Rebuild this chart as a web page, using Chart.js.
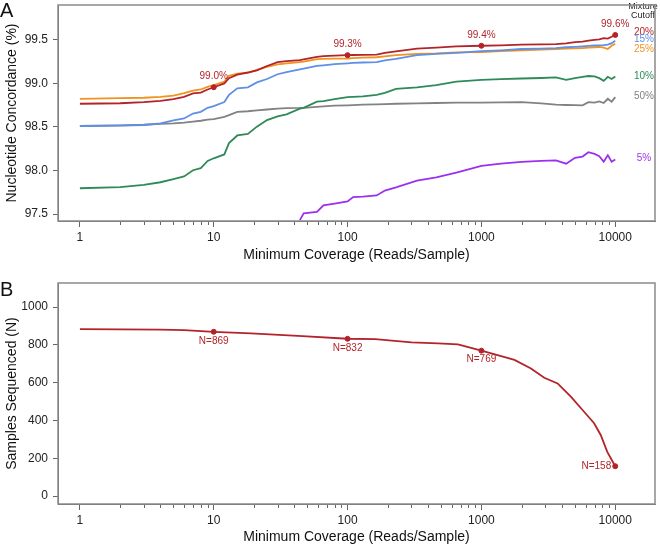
<!DOCTYPE html>
<html>
<head>
<meta charset="utf-8">
<script src="https://cdn.jsdelivr.net/npm/chart.js@4.4.1/dist/chart.umd.min.js"></script>
<style>
  html, body { margin: 0; padding: 0; background: #fff; }
  #wrap { position: relative; width: 660px; height: 546px; }
  #wrap canvas { position: absolute; left: 0; }
  #chartA { top: 0; }
  #chartB { top: 270px; }
</style>
</head>
<body>
<div id="wrap">
  <canvas id="chartA" width="660" height="270"></canvas>
  <canvas id="chartB" width="660" height="276"></canvas>
</div>
<script>
// Panel A: concordance per mixture cutoff vs minimum coverage
const coverageA = [
  1, 2, 3, 4, 5, 6, 7, 8, 9, 10,
  12, 13, 15, 18, 21, 25, 30, 35, 44, 47,
  59, 66, 80, 100, 110, 130, 165, 190, 230, 330,
  460, 650, 1000, 1400, 2000, 2800, 3600, 4300, 5000, 5700,
  6300, 7000, 7600, 8200, 8800, 9400, 10000
];
const cutoff20 = [
  98.766, 98.772, 98.785, 98.8, 98.82, 98.845, 98.885, 98.895, 98.93, 98.956,
  99.0, 99.06, 99.1, 99.125, 99.15, 99.2, 99.245, 99.255, 99.267, 99.275,
  99.305, 99.312, 99.318, 99.324, 99.326, 99.328, 99.33, 99.35, 99.368, 99.4,
  99.41, 99.425, 99.432, 99.436, 99.444, 99.448, 99.451, 99.46, 99.474, 99.48,
  99.49, 99.5, 99.505, 99.52, 99.515, 99.535, 99.556
];
const cutoff15 = [
  98.511, 98.515, 98.522, 98.54, 98.575, 98.597, 98.654, 98.673, 98.72, 98.74,
  98.786, 98.868, 98.944, 98.955, 99.011, 99.05, 99.105, 99.13, 99.161, 99.17,
  99.2, 99.207, 99.22, 99.23, 99.235, 99.24, 99.245, 99.265, 99.282, 99.324,
  99.34, 99.35, 99.37, 99.38, 99.395, 99.4, 99.406, 99.415, 99.42, 99.425,
  99.43, 99.435, 99.436, 99.44, 99.445, 99.462, 99.49
];
const cutoff25 = [
  98.823, 98.83, 98.835, 98.845, 98.86, 98.887, 98.918, 98.93, 98.96, 98.98,
  99.02, 99.087, 99.113, 99.124, 99.155, 99.19, 99.218, 99.23, 99.245, 99.25,
  99.278, 99.282, 99.284, 99.286, 99.29, 99.295, 99.3, 99.31, 99.324, 99.339,
  99.345, 99.357, 99.36, 99.37, 99.38, 99.388, 99.395, 99.398, 99.402, 99.406,
  99.41, 99.415, 99.418, 99.41, 99.395, 99.432, 99.455
];
const cutoff10 = [
  97.796, 97.81, 97.834, 97.865, 97.9, 97.931, 98.003, 98.026, 98.11, 98.14,
  98.184, 98.315, 98.402, 98.42, 98.503, 98.579, 98.62, 98.645, 98.71, 98.72,
  98.79, 98.797, 98.82, 98.842, 98.845, 98.85, 98.868, 98.89, 98.936, 98.955,
  98.98, 99.02, 99.04, 99.05, 99.056, 99.062, 99.068, 99.04, 99.06, 99.076,
  99.085, 99.08, 99.06, 99.03, 99.076, 99.05, 99.079
];
const cutoff50 = [
  98.511, 98.518, 98.525, 98.535, 98.54, 98.549, 98.56, 98.571, 98.585, 98.59,
  98.616, 98.635, 98.673, 98.68, 98.69, 98.7, 98.71, 98.715, 98.718, 98.72,
  98.73, 98.735, 98.745, 98.748, 98.75, 98.755, 98.76, 98.762, 98.766, 98.77,
  98.775, 98.778, 98.78, 98.782, 98.786, 98.77, 98.755, 98.752, 98.75, 98.748,
  98.785, 98.78, 98.793, 98.775, 98.823, 98.79, 98.842
];
const cutoff5 = [
  null, null, null, null, null, null, null, null, null, null,
  null, null, null, null, null, null, null, null, 97.43, 97.507,
  97.525, 97.6, 97.62, 97.645, 97.695, 97.7, 97.713, 97.77, 97.807, 97.883,
  97.92, 97.976, 98.052, 98.078, 98.1, 98.11, 98.116, 98.078, 98.146, 98.16,
  98.21, 98.19, 98.165, 98.1, 98.176, 98.1, 98.127
];
const cutoffLabels = ["20%", "15%", "25%", "10%", "50%", "5%"];
const markedCoverage = [10, 100, 1000, 10000];

// Panel B: samples left at each minimum coverage
const coverageB = [
  1, 2, 4, 6, 10, 19, 46, 100, 161, 214, 301, 475,
  668, 1000, 1766, 2346, 2950, 3710, 4660, 5850, 6950, 7790, 8720, 10000
];
const samplesSequenced = [
  883, 882, 880, 878, 869, 861, 846, 832, 830, 822, 813, 808,
  802, 769, 720, 675, 626, 596, 526, 446, 385, 323, 234, 158
];

const majorTicks = [1, 10, 100, 1000, 10000];
const concordanceTicks = [97.5, 98.0, 98.5, 99.0, 99.5];
const sampleTicks = [0, 200, 400, 600, 800, 1000];

// styles
const FONT = "'Liberation Sans', Arial, Helvetica, sans-serif";
const RED = "#b3242a";
const seriesColors = ["#b3242a", "#5d90e6", "#f2921f", "#2f8a58", "#828282", "#9b30ee"];
const labelNudge = [-3, -1, 5, 0, -1, -1];
const AXIS = "#666";

const minorTicks = [];
majorTicks.slice(0, -1).forEach((d) => {
  for (let k = 2; k <= 9; k++) minorTicks.push(d * k);
});

function toPoints(xs, ys) {
  return xs.map((x, i) => ({ x, y: ys[i] }));
}

// frame, log minor ticks and panel letter
const boxPlugin = {
  id: "box",
  afterDraw(chart, args, opts) {
    const { ctx, chartArea: a, scales } = chart;
    ctx.save();
    ctx.strokeStyle = AXIS;
    ctx.lineWidth = 1;
    ctx.beginPath();
    minorTicks.forEach((v) => {
      const px = Math.round(scales.x.getPixelForValue(v)) + 0.5;
      ctx.moveTo(px, a.bottom);
      ctx.lineTo(px, a.bottom + 4);
    });
    ctx.stroke();
    ctx.strokeStyle = "#8a8a8a";
    ctx.lineWidth = 1.5;
    ctx.strokeRect(a.left, a.top, a.right - a.left, a.bottom - a.top);
    ctx.fillStyle = "#111";
    ctx.font = "20px " + FONT;
    ctx.textAlign = "left";
    ctx.textBaseline = "middle";
    ctx.fillText(opts.letter, 0, opts.letterY);
    ctx.restore();
  },
};

function noPad(s) {
  s.paddingTop = 0;
  s.paddingBottom = 0;
  s.paddingLeft = 0;
  s.paddingRight = 0;
}

function makeOptions(cfg) {
  return {
    responsive: false,
    animation: false,
    layout: { padding: { top: cfg.padTop, right: 2, left: 0, bottom: 0 } },
    plugins: {
      legend: { display: false },
      tooltip: { enabled: false },
      box: { letter: cfg.letter, letterY: cfg.letterY },
    },
    elements: { point: { radius: 0 }, line: { tension: 0, borderWidth: 1.8 } },
    scales: {
      x: {
        type: "logarithmic",
        min: 0.686,
        max: 19820,
        afterBuildTicks: (s) => { s.ticks = majorTicks.map((v) => ({ value: v })); },
        afterFit: (s) => { s.height = cfg.xHeight; noPad(s); },
        ticks: {
          autoSkip: false,
          maxRotation: 0,
          padding: 3,
          color: "#222",
          font: { family: FONT, size: 12 },
          callback: (v) => String(v),
        },
        grid: { drawOnChartArea: false, tickLength: 6, color: AXIS },
        border: { display: true, color: AXIS },
        title: {
          display: true,
          text: "Minimum Coverage (Reads/Sample)",
          color: "#111",
          font: { family: FONT, size: 14 },
          padding: { top: 0, bottom: cfg.titlePad },
        },
      },
      y: {
        min: cfg.yMin,
        max: cfg.yMax,
        afterBuildTicks: (s) => { s.ticks = cfg.yTicks.map((v) => ({ value: v })); },
        afterFit: (s) => { s.width = 58; noPad(s); },
        ticks: {
          padding: 5,
          color: "#222",
          font: { family: FONT, size: 12 },
          callback: cfg.yFormat,
        },
        grid: { drawOnChartArea: false, tickLength: 5, color: AXIS },
        border: { display: true, color: AXIS },
        title: {
          display: true,
          text: cfg.yTitle,
          color: "#111",
          font: { family: FONT, size: 14 },
          padding: { top: 4, bottom: 0 },
        },
      },
    },
  };
}

// ---------- Panel A ----------
const seriesA = [cutoff20, cutoff15, cutoff25, cutoff10, cutoff50, cutoff5];

const annotateA = {
  id: "annotateA",
  afterDatasetsDraw(chart) {
    const { ctx, chartArea, scales } = chart;
    ctx.save();
    ctx.textAlign = "center";
    ctx.textBaseline = "middle";
    ctx.font = "10px " + FONT;
    ctx.fillStyle = RED;
    markedCoverage.forEach((c) => {
      const v = cutoff20[coverageA.indexOf(c)];
      ctx.fillText(v.toFixed(1) + "%", scales.x.getPixelForValue(c), scales.y.getPixelForValue(v) - 11);
    });
    seriesA.forEach((vals, i) => {
      const last = vals[vals.length - 1];
      ctx.fillStyle = seriesColors[i];
      ctx.fillText(cutoffLabels[i], chartArea.right - 11, scales.y.getPixelForValue(last) + labelNudge[i]);
    });
    ctx.fillStyle = "#222";
    ctx.font = "9px " + FONT;
    ctx.fillText("Mixture", chartArea.right - 12, 7);
    ctx.fillText("Cutoff", chartArea.right - 12, 16);
    ctx.restore();
  },
};

new Chart(document.getElementById("chartA"), {
  type: "line",
  data: {
    datasets: seriesA.map((vals, i) => ({
      label: cutoffLabels[i],
      data: toPoints(coverageA, vals),
      borderColor: seriesColors[i],
      backgroundColor: seriesColors[i],
      spanGaps: false,
      pointRadius: i === 0 ? (c) => (markedCoverage.includes(c.raw.x) ? 2.5 : 0) : 0,
    })),
  },
  options: makeOptions({
    letter: "A", letterY: 11, padTop: 1, xHeight: 49, titlePad: 6,
    yMin: 97.42, yMax: 99.9, yTicks: concordanceTicks,
    yFormat: (v) => Number(v).toFixed(1),
    yTitle: "Nucleotide Concordance (%)",
  }),
  plugins: [annotateA, boxPlugin],
});

// ---------- Panel B ----------
const annotateB = {
  id: "annotateB",
  afterDatasetsDraw(chart) {
    const { ctx, scales } = chart;
    ctx.save();
    ctx.font = "10px " + FONT;
    ctx.fillStyle = RED;
    ctx.textBaseline = "middle";
    markedCoverage.forEach((c, k) => {
      const v = samplesSequenced[coverageB.indexOf(c)];
      const px = scales.x.getPixelForValue(c);
      const py = scales.y.getPixelForValue(v);
      if (k === markedCoverage.length - 1) {
        ctx.textAlign = "right";
        ctx.fillText("N=" + v, px - 4, py);
      } else {
        ctx.textAlign = "center";
        ctx.fillText("N=" + v, px, py + 9);
      }
    });
    ctx.restore();
  },
};

new Chart(document.getElementById("chartB"), {
  type: "line",
  data: {
    datasets: [{
      label: "Samples",
      data: toPoints(coverageB, samplesSequenced),
      borderColor: RED,
      backgroundColor: RED,
      pointRadius: (c) => (markedCoverage.includes(c.raw.x) ? 2.5 : 0),
    }],
  },
  options: makeOptions({
    letter: "B", letterY: 20, padTop: 13, xHeight: 42, titlePad: 0,
    yMin: -42, yMax: 1127, yTicks: sampleTicks,
    yFormat: (v) => String(v),
    yTitle: "Samples Sequenced (N)",
  }),
  plugins: [annotateB, boxPlugin],
});
</script>
</body>
</html>
